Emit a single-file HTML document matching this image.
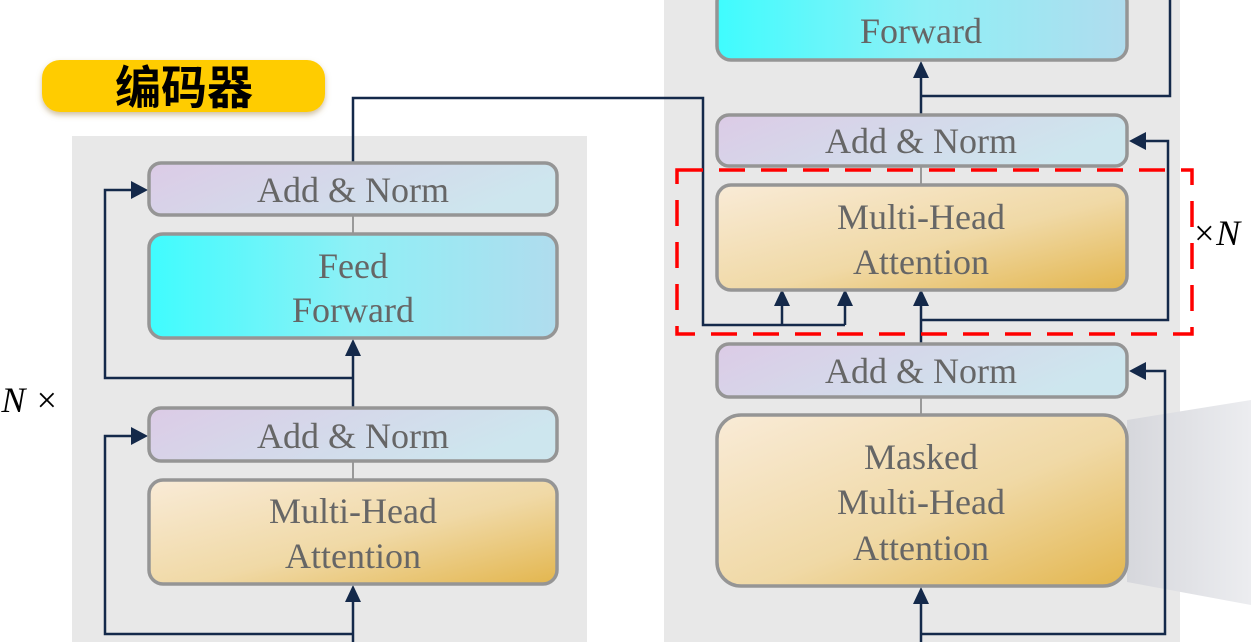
<!DOCTYPE html>
<html><head><meta charset="utf-8"><style>
html,body{margin:0;padding:0;background:#fff;}
svg{display:block}
text{font-family:"Liberation Serif",serif;fill:#666;font-size:36px;text-anchor:middle}
</style></head><body>
<svg width="1251" height="642" viewBox="0 0 1251 642" xmlns="http://www.w3.org/2000/svg">
<defs>
<linearGradient id="an" x1="0" y1="0" x2="1" y2="0.3"><stop offset="0" stop-color="#dccbe6"/><stop offset="1" stop-color="#cde6ee"/></linearGradient>
<linearGradient id="ff" x1="0" y1="0" x2="1" y2="0"><stop offset="0" stop-color="#3ffcfe"/><stop offset="0.5" stop-color="#8ef0f6"/><stop offset="1" stop-color="#b0dcee"/></linearGradient>
<linearGradient id="mh" x1="0" y1="0" x2="1" y2="1"><stop offset="0" stop-color="#f9ebd7"/><stop offset="0.55" stop-color="#f0d9a6"/><stop offset="1" stop-color="#e3b64e"/></linearGradient>
<linearGradient id="wg" x1="0" y1="0" x2="1" y2="0"><stop offset="0" stop-color="#d6d7dc"/><stop offset="1" stop-color="#ecedf0"/></linearGradient>
<filter id="sh" x="-10%" y="-30%" width="120%" height="160%"><feDropShadow dx="0" dy="3" stdDeviation="3" flood-color="#a08040" flood-opacity="0.5"/></filter>
</defs>
<rect x="72" y="136" width="515" height="506" fill="#e8e8e8"/>
<rect x="664" y="0" width="516" height="642" fill="#e8e8e8"/>
<polygon points="1127,420 1251,400 1251,605 1127,582" fill="url(#wg)"/>
<rect x="42" y="60" width="283" height="52" rx="18" fill="#ffcc05" filter="url(#sh)"/>
<text x="184" y="104" style="font-family:'Noto Sans CJK SC',sans-serif;font-weight:bold;font-size:46px;fill:#000">编码器</text>
<g stroke="#14294a" stroke-width="2.5" fill="none">
<polyline points="353,163 353,98 703,98 703,325 845,325"/>
<line x1="782" y1="325" x2="782" y2="300"/>
<line x1="845" y1="325" x2="845" y2="300"/>
<polyline points="353,378 105,378 105,190 140,190"/>
<line x1="353" y1="408" x2="353" y2="350"/>
<polyline points="353,634 105,634 105,436 140,436"/>
<line x1="353" y1="642" x2="353" y2="596"/>
<line x1="921" y1="115" x2="921" y2="72"/>
<polyline points="921,96 1170,96 1170,0"/>
<polyline points="921,320 1168,320 1168,141 1138,141"/>
<line x1="921" y1="344" x2="921" y2="300"/>
<polyline points="921,634 1165,634 1165,371 1138,371"/>
<line x1="921" y1="642" x2="921" y2="598"/>
</g>
<g fill="#14294a">
<path d="M774,306 L782,289 L790,306Z"/>
<path d="M837,306 L845,289 L853,306Z"/>
<path d="M913,306 L921,289 L929,306Z"/>
<path d="M345,356 L353,339 L361,356Z"/>
<path d="M345,602 L353,585 L361,602Z"/>
<path d="M913,78 L921,61 L929,78Z"/>
<path d="M913,604 L921,587 L929,604Z"/>
<path d="M131,181 L148,190 L131,199Z"/>
<path d="M131,427 L148,436 L131,445Z"/>
<path d="M1146,132 L1129,141 L1146,150Z"/>
<path d="M1146,362 L1129,371 L1146,380Z"/>
</g>
<g stroke="#999" stroke-width="2"><line x1="353" y1="215" x2="353" y2="234"/><line x1="353" y1="461" x2="353" y2="480"/><line x1="921" y1="166" x2="921" y2="185"/><line x1="921" y1="397" x2="921" y2="415"/></g>
<g stroke="#959595" stroke-width="3.5">
<rect x="149" y="163" width="408" height="52" rx="12" fill="url(#an)"/>
<rect x="149" y="234" width="408" height="104" rx="14" fill="url(#ff)"/>
<rect x="149" y="408" width="408" height="53" rx="12" fill="url(#an)"/>
<rect x="149" y="480" width="408" height="104" rx="14" fill="url(#mh)"/>
<rect x="717" y="-12" width="410" height="72" rx="14" fill="url(#ff)"/>
<rect x="717" y="115" width="410" height="51" rx="12" fill="url(#an)"/>
<rect x="717" y="185" width="410" height="105" rx="14" fill="url(#mh)"/>
<rect x="717" y="344" width="410" height="53" rx="12" fill="url(#an)"/>
<rect x="717" y="415" width="410" height="171" rx="24" fill="url(#mh)"/>
</g>
<text x="353" y="202">Add &amp; Norm</text>
<text x="353" y="278">Feed</text><text x="353" y="322">Forward</text>
<text x="353" y="448">Add &amp; Norm</text>
<text x="353" y="523">Multi-Head</text><text x="353" y="568">Attention</text>
<text x="921" y="43">Forward</text>
<text x="921" y="153">Add &amp; Norm</text>
<text x="921" y="229">Multi-Head</text><text x="921" y="274">Attention</text>
<text x="921" y="383">Add &amp; Norm</text>
<text x="921" y="469">Masked</text><text x="921" y="514">Multi-Head</text><text x="921" y="560">Attention</text>
<rect x="677" y="170" width="515" height="164" fill="none" stroke="#f00" stroke-width="3.5" stroke-dasharray="26,16"/>
<text x="1216" y="245" style="font-style:italic;fill:#000;font-size:36px">×N</text>
<text x="30" y="412" style="font-style:italic;fill:#000;font-size:36px">N ×</text>
</svg>
</body></html>
